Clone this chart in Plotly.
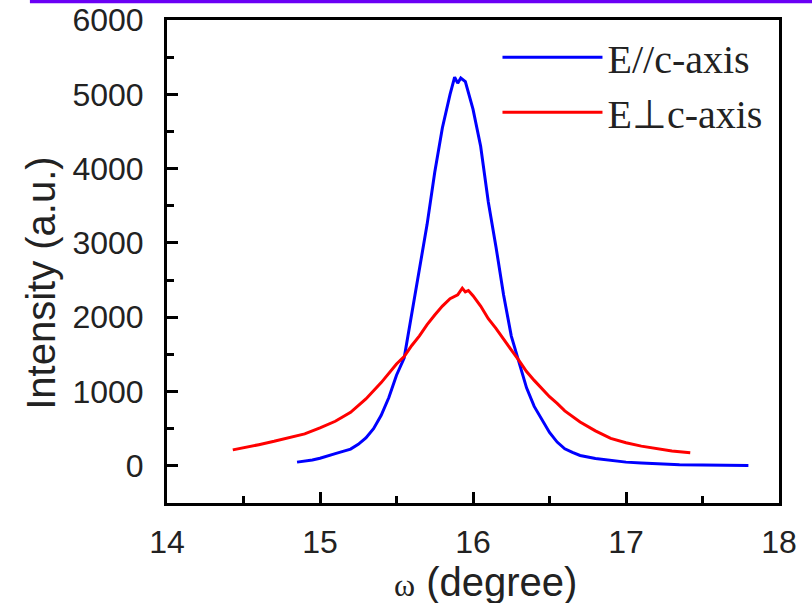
import plotly.graph_objects as go

# E//c-axis (blue)
omega_par = [14.85, 14.90, 14.95, 15.00, 15.05, 15.10, 15.15, 15.20, 15.25, 15.30,
             15.35, 15.40, 15.45, 15.50, 15.55, 15.60, 15.65, 15.70, 15.75, 15.80,
             15.85, 15.88, 15.90, 15.92, 15.95, 15.98, 16.00, 16.05, 16.10, 16.15,
             16.20, 16.25, 16.30, 16.35, 16.40, 16.45, 16.50, 16.55, 16.60, 16.65,
             16.70, 16.80, 16.90, 17.00, 17.10, 17.20, 17.35, 17.50, 17.65, 17.80]
int_par = [50, 62, 80, 103, 130, 165, 195, 225, 290, 375,
           500, 680, 920, 1220, 1450, 2050, 2700, 3250, 3950, 4550,
           5000, 5230, 5150, 5220, 5170, 4950, 4800, 4300, 3550, 2950,
           2300, 1750, 1400, 1050, 800, 620, 450, 320, 230, 180,
           140, 100, 70, 50, 38, 28, 15, 10, 8, 5]

# E⊥c-axis (red)
omega_perp = [14.43, 14.50, 14.60, 14.70, 14.80, 14.90, 15.00, 15.10, 15.20, 15.30,
              15.40, 15.50, 15.55, 15.60, 15.65, 15.70, 15.75, 15.80, 15.85, 15.90,
              15.93, 15.95, 15.97, 16.00, 16.05, 16.10, 16.15, 16.20, 16.25, 16.30,
              16.35, 16.40, 16.45, 16.50, 16.55, 16.60, 16.70, 16.80, 16.90, 17.00,
              17.10, 17.20, 17.30, 17.42]
int_perp = [215, 240, 285, 330, 380, 430, 510, 600, 720, 900,
            1120, 1370, 1470, 1620, 1750, 1900, 2030, 2150, 2250, 2300,
            2390, 2340, 2360, 2290, 2150, 1980, 1850, 1700, 1560, 1420,
            1270, 1150, 1040, 930, 840, 740, 590, 470, 370, 310,
            265, 230, 200, 175]

names = ["E//c-axis", "E\u22a5c-axis"]

fig = go.Figure()
fig.add_trace(go.Scatter(x=omega_par, y=int_par, mode="lines", name=names[0],
                         line=dict(color="#0000ff", width=3)))
fig.add_trace(go.Scatter(x=omega_perp, y=int_perp, mode="lines", name=names[1],
                         line=dict(color="#ff0000", width=3)))

axis_common = dict(showline=True, linecolor="black", linewidth=3, mirror=True,
                   ticks="inside", tickcolor="black", tickwidth=3, ticklen=11,
                   showgrid=False, zeroline=False, automargin=False,
                   tickfont=dict(family="Liberation Sans, Arial", size=32, color="#222"))

fig.update_xaxes(range=[14, 18], tickvals=[14, 15, 16, 17, 18],
                 minor=dict(ticks="inside", tickvals=[14.5, 15.5, 16.5, 17.5],
                            ticklen=7, tickwidth=3, tickcolor="black"),
                 ticklabelstandoff=9, **axis_common)
fig.update_yaxes(range=[-500, 6000], tickvals=[0, 1000, 2000, 3000, 4000, 5000, 6000],
                 minor=dict(ticks="inside", tickvals=[500, 1500, 2500, 3500, 4500, 5500],
                            ticklen=7, tickwidth=3, tickcolor="black"),
                 ticklabelstandoff=14, **axis_common)

fig.update_layout(
    width=812, height=603,
    margin=dict(l=167, r=33, t=20, b=100),
    paper_bgcolor="white", plot_bgcolor="white",
    showlegend=True,
    legend=dict(x=0.54, y=0.99, xanchor="left", yanchor="top",
                bgcolor="rgba(0,0,0,0)", itemwidth=100, tracegroupgap=0,
                font=dict(family="Liberation Serif, Times New Roman", size=40, color="#222")),
    annotations=[
        dict(text="Intensity (a.u.)", xref="paper", yref="paper",
             x=-0.205, y=0.455, xanchor="center", yanchor="middle",
             textangle=-90, showarrow=False,
             font=dict(family="Liberation Sans, Arial", size=40, color="#222")),
        dict(text="<span style='font-family:Liberation Serif;font-size:32px'>\u03c9</span> (degree)",
             xref="paper", yref="paper", x=0.52, y=-0.163,
             xanchor="center", yanchor="middle", showarrow=False,
             font=dict(family="Liberation Sans, Arial", size=40, color="#222")),
    ],
    shapes=[dict(type="line", xref="paper", yref="paper", x0=-0.224, x1=1.06,
                 y0=1.039, y1=1.039, line=dict(color="#6a00f5", width=4))],
)

fig.write_html("out.html", config={"displayModeBar": False},
               post_script="document.body.style.margin='0px';")
